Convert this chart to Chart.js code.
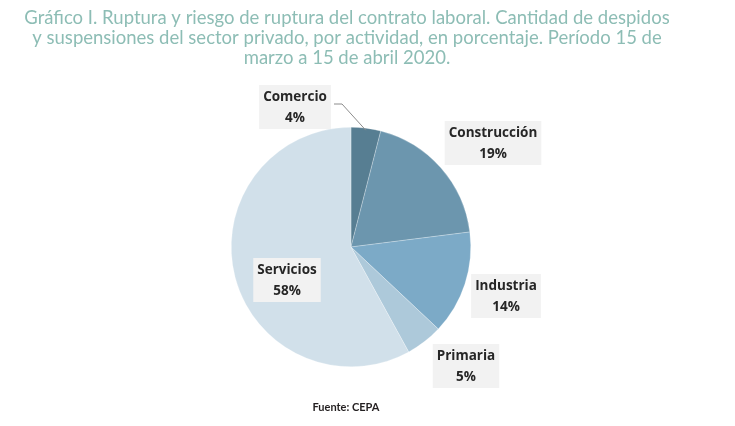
<!DOCTYPE html>
<html>
<head>
<meta charset="utf-8">
<script src="https://cdn.jsdelivr.net/npm/chart.js@4"></script>
<style>
  html, body { margin: 0; padding: 0; background: #fff; }
  #wrap { width: 735px; height: 426px; position: relative; }
</style>
</head>
<body>
<div id="wrap"><canvas id="pie" width="735" height="426"></canvas></div>
<script>
// data
const sectores = ['Comercio', 'Construcción', 'Industria', 'Primaria', 'Servicios'];
const porcentajes = [4, 19, 14, 5, 58];
const colores = ['#577e92', '#6c96ae', '#7caac7', '#adc9da', '#d1e0ea'];

const titulo = [
  'Gráfico I. Ruptura y riesgo de ruptura del contrato laboral. Cantidad de despidos',
  'y suspensiones del sector privado, por actividad, en porcentaje. Período 15 de',
  'marzo a 15 de abril 2020.'
];
const fuente = 'Fuente: CEPA';

// label box centers (px)
const labelPos = [[295, 107], [493, 143], [506, 296], [466, 366], [287, 280]];

const labelsPlugin = {
  id: 'labels',
  afterDraw(chart) {
    const ctx = chart.ctx;
    ctx.save();
    // title
    ctx.fillStyle = '#8dbdb5';
    ctx.font = '18.5px Lato';
    ctx.textAlign = 'center';
    ctx.textBaseline = 'middle';
    titulo.forEach((t, i) => ctx.fillText(t, 347, 18 + i * 20));

    // source
    ctx.fillStyle = '#231f20';
    ctx.font = 'bold 11px Lato';
    ctx.fillText(fuente, 346, 407);

    const meta = chart.getDatasetMeta(0);
    // leader line for Comercio
    const arc = meta.data[0];
    const mid = (arc.startAngle + arc.endAngle) / 2;
    const ex = arc.x + Math.cos(mid) * (arc.outerRadius - 2);
    const ey = arc.y + Math.sin(mid) * (arc.outerRadius - 2);
    ctx.strokeStyle = '#8c8c8c';
    ctx.lineWidth = 1;
    ctx.beginPath();
    ctx.moveTo(334, 104);
    ctx.lineTo(342, 104);
    ctx.lineTo(ex, ey);
    ctx.stroke();

    ctx.font = 'bold 13.5px "Open Sans"';
    sectores.forEach((s, i) => {
      const [cx, cy] = labelPos[i];
      const txt2 = porcentajes[i] + '%';
      const w = Math.max(ctx.measureText(s).width, ctx.measureText(txt2).width) + 8;
      const h = 44;
      ctx.fillStyle = '#f2f2f2';
      ctx.fillRect(cx - w / 2, cy - h / 2, w, h);
      ctx.fillStyle = '#262626';
      ctx.fillText(s, cx, cy - 10);
      ctx.fillText(txt2, cx, cy + 11);
    });
    ctx.restore();
  }
};

new Chart(document.getElementById('pie'), {
  type: 'pie',
  data: {
    labels: sectores,
    datasets: [{
      data: porcentajes,
      backgroundColor: colores,
      borderColor: 'rgba(255,255,255,0.5)',
      borderWidth: 0.5
    }]
  },
  options: {
    responsive: false,
    animation: false,
    layout: { padding: { top: 127, bottom: 59, left: 231, right: 264 } },
    plugins: {
      legend: { display: false },
      tooltip: { enabled: false },
      title: { display: false }
    }
  },
  plugins: [labelsPlugin]
});
</script>
</body>
</html>
